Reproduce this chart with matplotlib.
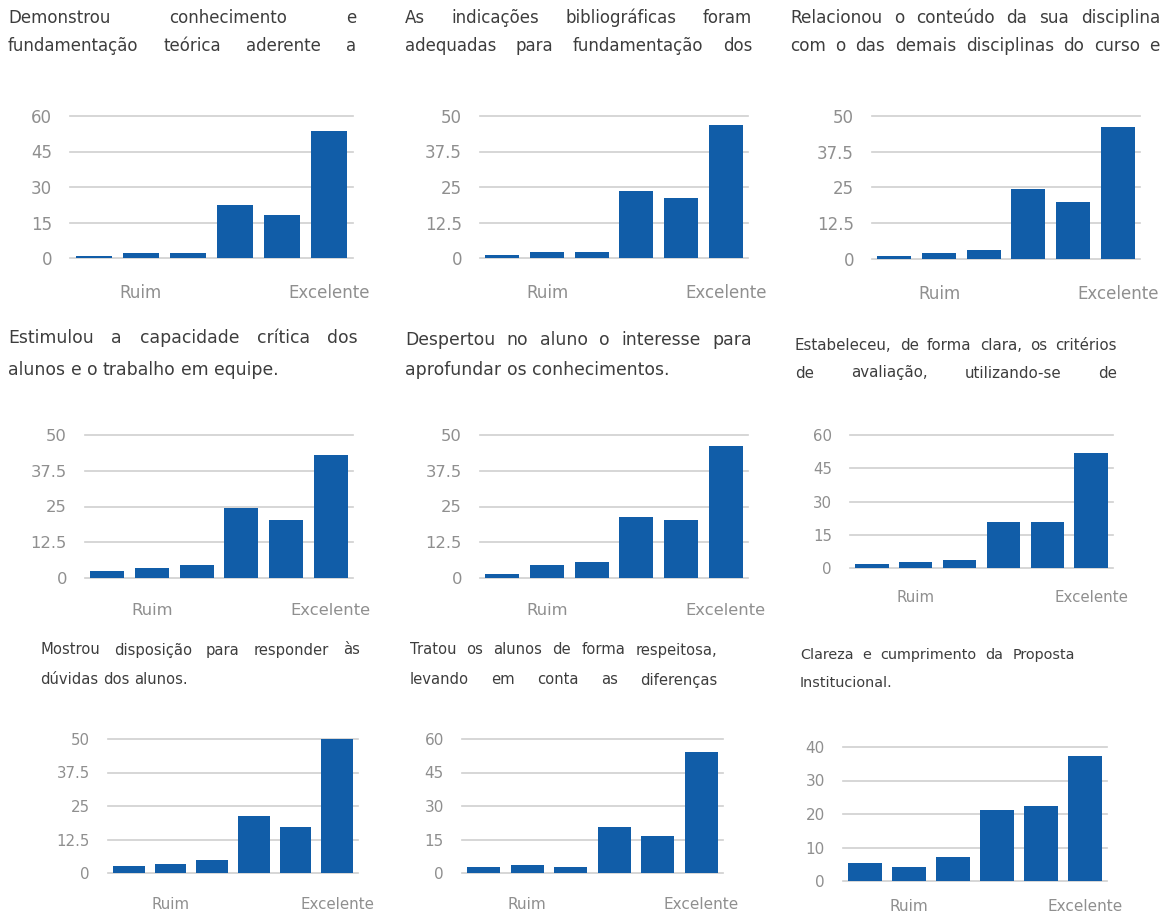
import matplotlib
matplotlib.use("Agg")
import matplotlib.pyplot as plt

W, H = 1166, 918
plt.rcParams['font.family'] = ['DejaVu Sans']

BLUE = '#115da8'
GRID = '#cfcfcf'
TICK_COLOR = '#8f8f8f'
TITLE_COLOR = '#3d3d3d'

categories = ['', 'Ruim', '', '', '', 'Excelente']

# values (Ruim ... Excelente)
demonstrou = [1, 2, 2, 22.5, 18, 53.5]
indicacoes = [1.2, 2, 2, 23.5, 21.3, 47]
relacionou = [1.2, 2, 3, 24.5, 20, 46]
estimulou = [2.5, 3.5, 4.5, 24.5, 20.3, 43]
despertou = [1.5, 4.5, 5.6, 21.3, 20.3, 46.2]
estabeleceu = [1.8, 2.5, 3.7, 20.8, 20.8, 51.7]
mostrou = [2.5, 3.5, 4.7, 21.1, 17.2, 50]
tratou = [2.5, 3.7, 2.5, 20.5, 16.4, 54.3]
clareza = [5.4, 4.2, 7.2, 21.2, 22.4, 37.2]

ticks_60 = [0, 15, 30, 45, 60]
ticks_50 = [0, 12.5, 25, 37.5, 50]
ticks_40 = [0, 10, 20, 30, 40]

titles = [
    ["Demonstrou conhecimento e", "fundamentação teórica aderente a"],
    ["As indicações bibliográficas foram", "adequadas para fundamentação dos"],
    ["Relacionou o conteúdo da sua disciplina", "com o das demais disciplinas do curso e"],
    ["Estimulou a capacidade crítica dos", "alunos e o trabalho em equipe."],
    ["Despertou no aluno o interesse para", "aprofundar os conhecimentos."],
    ["Estabeleceu, de forma clara, os critérios", "de avaliação, utilizando-se de"],
    ["Mostrou disposição para responder às", "dúvidas dos alunos."],
    ["Tratou os alunos de forma respeitosa,", "levando em conta as diferenças"],
    ["Clareza e cumprimento da Proposta", "Institucional."],
]
series = [demonstrou, indicacoes, relacionou, estimulou, despertou,
          estabeleceu, mostrou, tratou, clareza]
yticks = [ticks_60, ticks_50, ticks_50, ticks_50, ticks_50,
          ticks_60, ticks_50, ticks_60, ticks_40]

# pixel layout: axes (x0, x1, ytop, ybottom, ticksize, xpad)
axes_px = [
    (70, 353, 116, 258, 12, 19), (480, 748, 116, 258, 12, 19),
    (872, 1140, 116, 259, 12, 19),
    (85, 353, 435, 578, 11.8, 18), (480, 748, 435, 578, 11.8, 18),
    (850, 1113, 435, 568, 10.8, 16),
    (108, 358, 739, 873, 10.8, 17), (462, 723, 739, 873, 11, 17),
    (843, 1107, 747, 881, 11, 13),
]
# title (x0, x1, y1, y2, size, justify line 2)
title_px = [
    (8, 356, 18, 46, 12, True), (405, 752, 18, 46, 12, True),
    (790, 1160, 18, 46, 12.2, True),
    (8, 358, 338, 370, 12.4, False), (405, 752, 340, 370, 12.4, False),
    (795, 1117, 345, 373, 10.8, True),
    (40, 360, 650, 680, 10.6, False), (410, 717, 650, 680, 10.6, True),
    (800, 1075, 655, 683, 10.4, False),
]

fig = plt.figure(figsize=(W / 100, H / 100), dpi=100)
fig.patch.set_facecolor('white')
renderer = fig.canvas.get_renderer()


def place_line(text, x0, x1, y, size, justify):
    words = text.split()
    objs = [fig.text(0, 1 - y / H, w, fontsize=size, color=TITLE_COLOR,
                     va='center', ha='left') for w in words]
    widths = [t.get_window_extent(renderer).width for t in objs]
    probe = fig.text(0, 0, 'a a', fontsize=size)
    probe2 = fig.text(0, 0, 'aa', fontsize=size)
    space = probe.get_window_extent(renderer).width - probe2.get_window_extent(renderer).width
    probe.remove()
    probe2.remove()
    if justify and len(words) > 1:
        gap = (x1 - x0 - sum(widths)) / (len(words) - 1)
    else:
        gap = space
    x = x0
    for t, w in zip(objs, widths):
        t.set_x(x / W)
        x += w + gap


for vals, tks, (ax0, ax1, yt, yb, tsz, xpad), (tx0, tx1, ty1, ty2, tsize, just2), lines in zip(
        series, yticks, axes_px, title_px, titles):
    ax = fig.add_axes([ax0 / W, 1 - yb / H, (ax1 - ax0) / W, (yb - yt) / H])
    ax.bar(range(len(vals)), vals, width=0.76, color=BLUE, zorder=2)
    ax.set_xlim(-0.5, len(vals) - 0.5)
    ax.set_ylim(0, tks[-1])
    for t in tks:
        ax.axhline(t, color=GRID, lw=1.2, zorder=1, clip_on=False)
    ax.set_yticks(tks)
    ax.set_yticklabels([f"{t:g}" for t in tks])
    ax.set_xticks(range(len(vals)))
    ax.set_xticklabels(categories)
    for s in ax.spines.values():
        s.set_visible(False)
    ax.tick_params(axis='y', length=0, pad=13, labelsize=tsz, labelcolor=TICK_COLOR)
    ax.tick_params(axis='x', length=0, pad=xpad, labelsize=tsz, labelcolor=TICK_COLOR)

    place_line(lines[0], tx0, tx1, ty1, tsize, True)
    place_line(lines[1], tx0, tx1, ty2, tsize, just2)

fig.savefig('out.png', dpi=100, facecolor='white')
